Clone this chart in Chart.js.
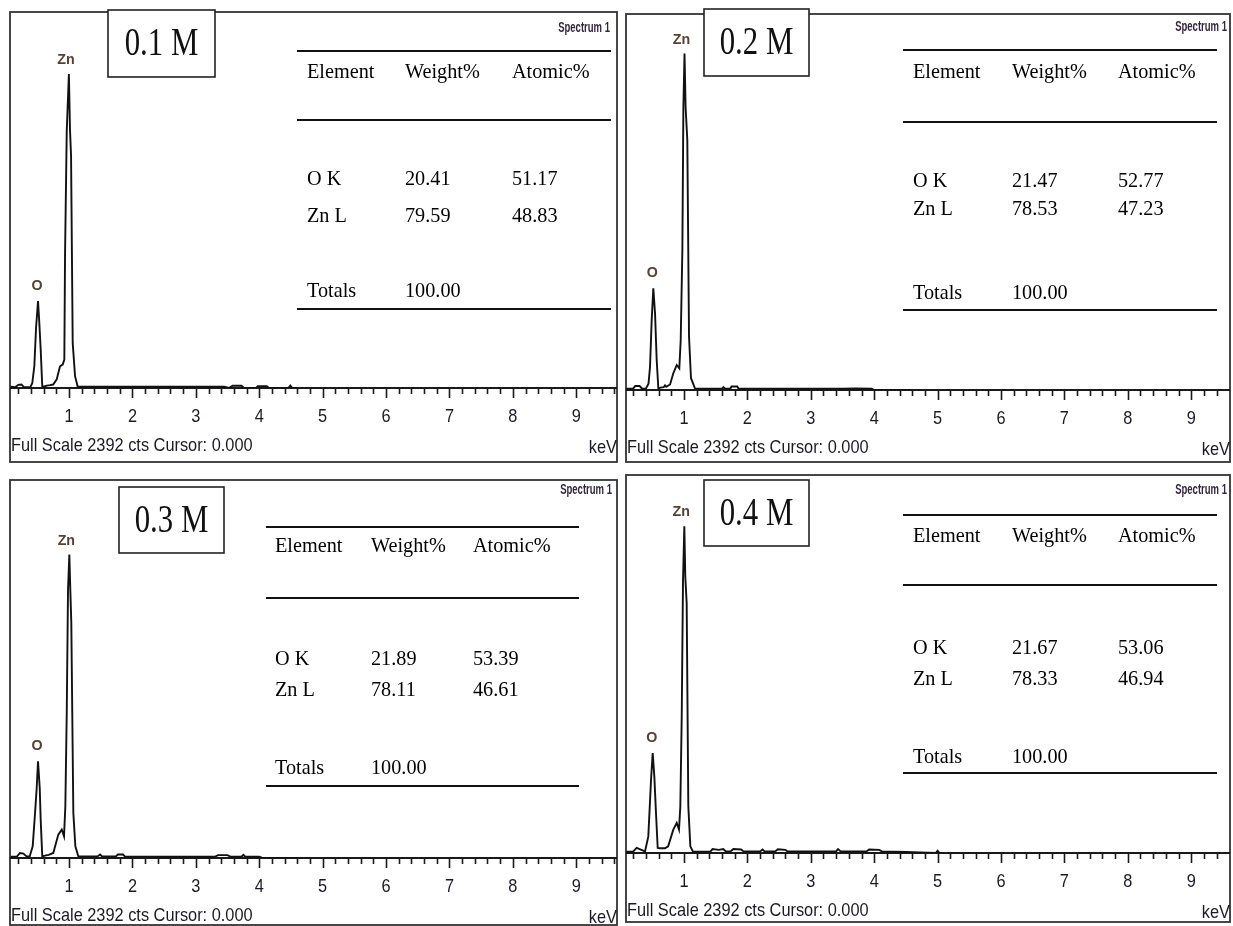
<!DOCTYPE html>
<html>
<head>
<meta charset="utf-8">
<script src="https://cdn.jsdelivr.net/npm/chart.js@4.4.1/dist/chart.umd.min.js"></script>
<style>
  html, body { margin: 0; padding: 0; background: #fff; }
  #wrap { position: relative; width: 1233px; height: 926px; overflow: hidden; background: #fff; }
  #wrap canvas { position: absolute; }
</style>
</head>
<body>
<div id="wrap">
  <canvas id="p1"></canvas>
  <canvas id="p2"></canvas>
  <canvas id="p3"></canvas>
  <canvas id="p4"></canvas>
</div>
<script>
// ---- EDS spectra (energy in keV, intensity in counts) ----
const sampleLabels = ['0.1 M', '0.2 M', '0.3 M', '0.4 M'];

const energy01 = [0.08, 0.15, 0.20, 0.25, 0.29, 0.33, 0.39, 0.42, 0.453, 0.48, 0.511, 0.53, 0.553, 0.578, 0.61, 0.65, 0.70, 0.75, 0.806, 0.831, 0.858, 0.90, 0.926, 0.937, 0.964, 0.998, 1.015, 1.032, 1.058, 1.095, 1.137, 1.20, 1.60, 2.00, 2.50, 3.00, 3.45, 3.52, 3.58, 3.72, 3.76, 3.95, 3.98, 4.12, 4.15, 4.46, 4.49, 4.52, 4.60];
const counts01 = [8, 5, 20, 22, 6, 5, 6, 30, 140, 383, 553, 425, 245, 10, 10, 15, 18, 22, 55, 96, 138, 149, 181, 842, 1637, 1997, 1646, 1478, 287, 75, 8, 8, 8, 8, 8, 8, 8, 0, 14, 14, 0, 0, 12, 12, 0, 0, 16, 0, 0];

const energy02 = [0.09, 0.20, 0.23, 0.30, 0.34, 0.40, 0.44, 0.464, 0.49, 0.516, 0.543, 0.569, 0.595, 0.63, 0.68, 0.70, 0.72, 0.78, 0.831, 0.885, 0.926, 0.948, 0.974, 0.99, 1.008, 1.025, 1.052, 1.079, 1.11, 1.173, 1.60, 1.62, 1.65, 1.73, 1.75, 1.84, 1.86, 2.50, 3.00, 3.50, 3.70, 3.96, 4.00, 4.60];
const counts02 = [8, 10, 25, 25, 8, 10, 40, 148, 445, 647, 488, 191, 10, 15, 18, 30, 20, 35, 106, 159, 138, 318, 890, 1802, 2141, 1800, 1590, 340, 75, 10, 8, 18, 8, 8, 22, 22, 8, 8, 8, 8, 10, 8, 0, 0];

const energy03 = [0.08, 0.18, 0.227, 0.28, 0.33, 0.38, 0.427, 0.464, 0.49, 0.511, 0.538, 0.553, 0.578, 0.62, 0.68, 0.752, 0.831, 0.885, 0.921, 0.942, 0.964, 0.984, 1.005, 1.02, 1.036, 1.068, 1.10, 1.147, 1.45, 1.49, 1.52, 1.74, 1.77, 1.85, 1.88, 2.50, 3.30, 3.35, 3.50, 3.55, 3.72, 3.75, 3.78, 4.00, 4.05, 4.60];
const counts03 = [8, 10, 32, 28, 10, 10, 74, 285, 443, 612, 443, 243, 10, 15, 20, 32, 148, 180, 137, 327, 917, 1698, 1920, 1700, 1488, 285, 74, 10, 10, 22, 10, 10, 22, 22, 10, 8, 8, 18, 18, 8, 8, 20, 8, 8, 0, 0];

const energy04 = [0.09, 0.20, 0.254, 0.30, 0.385, 0.437, 0.48, 0.506, 0.532, 0.558, 0.585, 0.62, 0.70, 0.75, 0.831, 0.885, 0.921, 0.942, 0.964, 0.984, 1.005, 1.02, 1.042, 1.068, 1.10, 1.142, 1.42, 1.45, 1.55, 1.62, 1.66, 1.74, 1.78, 1.90, 1.94, 2.20, 2.24, 2.27, 2.44, 2.48, 2.60, 2.63, 3.40, 3.43, 3.47, 3.88, 3.92, 4.08, 4.12, 4.30, 4.50, 4.97, 5.00, 5.03, 5.10];
const counts04 = [8, 10, 32, 25, 10, 105, 464, 633, 485, 253, 32, 30, 30, 42, 148, 190, 148, 295, 865, 1720, 2068, 1750, 1582, 295, 42, 8, 10, 25, 20, 25, 10, 12, 25, 22, 10, 10, 22, 10, 10, 24, 20, 10, 10, 25, 10, 10, 22, 20, 10, 8, 6, 0, 14, 0, 0];

// ---- quantification tables ----
const tableElements = ['O K', 'Zn L'];
const weightPct = [[20.41, 79.59], [21.47, 78.53], [21.89, 78.11], [21.67, 78.33]];
const atomicPct = [[51.17, 48.83], [52.77, 47.23], [53.39, 46.61], [53.06, 46.94]];
const totalsPct = ['100.00', '100.00', '100.00', '100.00'];

// ---- axis ----
const tickLabels = ['1', '2', '3', '4', '5', '6', '7', '8', '9'];
const fullScaleCounts = 2392;

const spectra = [
  { energy: energy01, counts: counts01 },
  { energy: energy02, counts: counts02 },
  { energy: energy03, counts: counts03 },
  { energy: energy04, counts: counts04 }
];

// ---- page layout of each panel (page pixels) ----
const layouts = [
  { canvas: [0, 0, 621, 470], frame: [10, 12, 617, 462], baseline: 388, xRange: [0.069, 9.643],
    box: [108, 10, 215, 77], spec: [610, 28],
    table: { x0: 297, x1: 611, lines: [51, 120, 309], rows: [72, 179, 216, 291], cols: [307, 405, 512] } },
  { canvas: [621, 0, 612, 470], frame: [626, 14, 1230, 462], baseline: 390, xRange: [0.085, 9.612],
    box: [704, 9, 809, 76], spec: [1227, 27],
    table: { x0: 903, x1: 1217, lines: [50, 122, 310], rows: [72, 181, 209, 293], cols: [913, 1012, 1118] } },
  { canvas: [0, 470, 621, 456], frame: [10, 480, 617, 925], baseline: 858, xRange: [0.069, 9.643],
    box: [119, 487, 224, 553], spec: [612, 490],
    table: { x0: 266, x1: 579, lines: [527, 598, 786], rows: [546, 659, 690, 768], cols: [275, 371, 473] } },
  { canvas: [621, 470, 612, 456], frame: [626, 475, 1230, 922], baseline: 853, xRange: [0.085, 9.612],
    box: [704, 480, 809, 546], spec: [1227, 490],
    table: { x0: 903, x1: 1217, lines: [515, 585, 773], rows: [536, 648, 679, 757], cols: [913, 1012, 1118] } }
];

const SANS = '"Liberation Sans", Arial, sans-serif';
const SERIF = '"Liberation Serif", "Times New Roman", serif';
const INK = '#1d1826';
const PEAK_INK = '#5a4030';

// Draws text horizontally condensed by factor sx.
function drawText(ctx, s, x, y, font, color, align, sx) {
  ctx.save();
  ctx.font = font;
  ctx.fillStyle = color;
  ctx.textAlign = align;
  ctx.textBaseline = 'middle';
  ctx.translate(x, y);
  ctx.scale(sx, 1);
  ctx.fillText(s, 0, 0);
  ctx.restore();
}

function hLine(ctx, x0, x1, y, w, color) {
  ctx.save();
  ctx.strokeStyle = color;
  ctx.lineWidth = w;
  ctx.beginPath();
  ctx.moveTo(x0, y);
  ctx.lineTo(x1, y);
  ctx.stroke();
  ctx.restore();
}

function makeDecor(idx) {
  const L = layouts[idx];
  const ox = L.canvas[0], oy = L.canvas[1];
  return {
    id: 'edsDecor' + idx,
    beforeDatasetsDraw(chart) {
      const ctx = chart.ctx;
      const xs = chart.scales.x;
      const [fl, ft, fr, fb] = L.frame;
      // panel frame
      ctx.save();
      ctx.strokeStyle = '#333';
      ctx.lineWidth = 1.8;
      ctx.strokeRect(fl - ox, ft - oy, fr - fl, fb - ft);
      ctx.restore();
      // energy axis line and ticks
      const by = L.baseline - oy;
      hLine(ctx, fl - ox, fr - ox, by, 1.8, '#1a1a1a');
      ctx.save();
      ctx.strokeStyle = '#1a1a1a';
      ctx.lineWidth = 1.6;
      for (let k = 1; k <= 49; k++) {
        const px = xs.getPixelForValue(k * 0.2);
        if (px <= fl - ox + 1 || px >= fr - ox - 1) continue;
        const len = (k % 5 === 0) ? 10 : 6;
        ctx.beginPath();
        ctx.moveTo(Math.round(px) + 0.5, by);
        ctx.lineTo(Math.round(px) + 0.5, by + len);
        ctx.stroke();
      }
      ctx.restore();
    },
    afterDatasetsDraw(chart) {
      const ctx = chart.ctx;
      const xs = chart.scales.x, ys = chart.scales.y;
      const [fl, ft, fr, fb] = L.frame;
      const by = L.baseline - oy;
      const sp = spectra[idx];

      // tick labels
      tickLabels.forEach(t => {
        const px = xs.getPixelForValue(Number(t));
        drawText(ctx, t, px, by + 29, '19px ' + SANS, INK, 'center', 0.86);
      });
      drawText(ctx, 'Full Scale ' + fullScaleCounts + ' cts Cursor: 0.000', fl - ox + 1, by + 58, '19px ' + SANS, INK, 'left', 0.86);
      drawText(ctx, 'keV', fr - ox, by + 60, '19px ' + SANS, INK, 'right', 0.86);

      // peak labels (O K and Zn L lines)
      let iO = 0, iZn = 0;
      sp.energy.forEach((e, i) => {
        if (e < 0.7 && sp.counts[i] > sp.counts[iO]) iO = i;
        if (sp.counts[i] > sp.counts[iZn]) iZn = i;
      });
      drawText(ctx, 'O', xs.getPixelForValue(sp.energy[iO]) - 1, ys.getPixelForValue(sp.counts[iO]) - 15, 'bold 15px ' + SANS, PEAK_INK, 'center', 0.95);
      drawText(ctx, 'Zn', xs.getPixelForValue(sp.energy[iZn]) - 3, ys.getPixelForValue(sp.counts[iZn]) - 14, 'bold 15px ' + SANS, PEAK_INK, 'center', 0.95);

      // spectrum name
      drawText(ctx, 'Spectrum 1', L.spec[0] - ox, L.spec[1] - oy, 'bold 14px ' + SANS, '#33263f', 'right', 0.68);

      // quantification table
      const T = L.table;
      T.lines.forEach(y => hLine(ctx, T.x0 - ox, T.x1 - ox, y - oy, 1.8, '#111'));
      const tf = '22px ' + SERIF, tsx = 0.92;
      const cx = T.cols.map(c => c - ox), ry = T.rows.map(r => r - oy);
      drawText(ctx, 'Element', cx[0], ry[0], tf, '#000', 'left', tsx);
      drawText(ctx, 'Weight%', cx[1], ry[0], tf, '#000', 'left', tsx);
      drawText(ctx, 'Atomic%', cx[2], ry[0], tf, '#000', 'left', tsx);
      tableElements.forEach((el, j) => {
        drawText(ctx, el, cx[0], ry[1 + j], tf, '#000', 'left', tsx);
        drawText(ctx, weightPct[idx][j].toFixed(2), cx[1], ry[1 + j], tf, '#000', 'left', tsx);
        drawText(ctx, atomicPct[idx][j].toFixed(2), cx[2], ry[1 + j], tf, '#000', 'left', tsx);
      });
      drawText(ctx, 'Totals', cx[0], ry[3], tf, '#000', 'left', tsx);
      drawText(ctx, totalsPct[idx], cx[1], ry[3], tf, '#000', 'left', tsx);

      // concentration box
      const [bl, bt, br, bb] = L.box;
      ctx.save();
      ctx.fillStyle = '#fff';
      ctx.fillRect(bl - ox, bt - oy, br - bl, bb - bt);
      ctx.strokeStyle = '#222';
      ctx.lineWidth = 1.6;
      ctx.strokeRect(bl - ox, bt - oy, br - bl, bb - bt);
      ctx.restore();
      drawText(ctx, sampleLabels[idx], (bl + br) / 2 - ox, (bt + bb) / 2 - oy + 1, '40px ' + SERIF, '#111', 'center', 0.77);
    }
  };
}

spectra.forEach((sp, idx) => {
  const L = layouts[idx];
  const [ox, oy, cw, ch] = L.canvas;
  const canvas = document.getElementById('p' + (idx + 1));
  canvas.width = cw;
  canvas.height = ch;
  canvas.style.left = ox + 'px';
  canvas.style.top = oy + 'px';
  canvas.style.width = cw + 'px';
  canvas.style.height = ch + 'px';

  const points = sp.energy.map((e, i) => ({ x: e, y: sp.counts[i] }));

  new Chart(canvas, {
    type: 'line',
    data: {
      datasets: [{
        data: points,
        borderColor: '#111',
        borderWidth: 1.9,
        pointRadius: 0,
        tension: 0,
        fill: false
      }]
    },
    options: {
      responsive: false,
      animation: false,
      events: [],
      layout: {
        padding: {
          left: L.frame[0] - ox,
          top: L.frame[1] - oy,
          right: ox + cw - L.frame[2],
          bottom: oy + ch - L.baseline
        }
      },
      scales: {
        x: { type: 'linear', min: L.xRange[0], max: L.xRange[1], display: false },
        y: { type: 'linear', min: 0, max: fullScaleCounts, display: false }
      },
      plugins: { legend: { display: false }, tooltip: { enabled: false } }
    },
    plugins: [makeDecor(idx)]
  });
});
</script>
</body>
</html>
